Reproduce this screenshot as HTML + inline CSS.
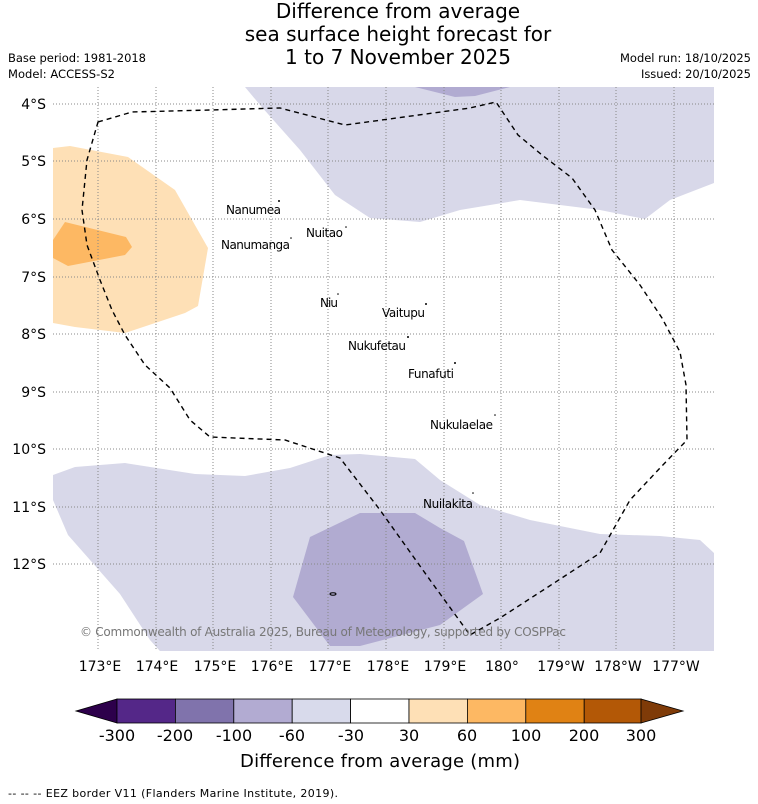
<!DOCTYPE html>
<html><head><meta charset="utf-8"><style>
body{margin:0;background:#fff;font-family:"Liberation Sans","DejaVu Sans",sans-serif;}
svg{display:block}
</style></head><body>
<svg width="758" height="804" xmlns="http://www.w3.org/2000/svg" font-family="DejaVu Sans, Liberation Sans, sans-serif">
<g font-size="20" text-anchor="middle" fill="#000">
<text x="398" y="18">Difference from average</text>
<text x="398" y="41">sea surface height forecast for</text>
<text x="398" y="64">1 to 7 November 2025</text>
</g>
<g font-size="11.5" fill="#000">
<text x="8" y="62" textLength="138">Base period: 1981-2018</text>
<text x="8" y="78" textLength="107">Model: ACCESS-S2</text>
<text x="620" y="62" textLength="131">Model run: 18/10/2025</text>
<text x="641" y="78" textLength="110">Issued: 20/10/2025</text>
</g>
<defs><clipPath id="mc"><rect x="53" y="87" width="661" height="564"/></clipPath></defs>
<g clip-path="url(#mc)">
<polygon fill="#d8d8e9" points="245,87 714,87 714,183 670,200 645,219 600,210 520,200 460,210 420,222 370,218 335,195 300,150 260,105"/>
<polygon fill="#b1abd1" points="415,87 510,87 475,96 455,97"/>
<polygon fill="#fee0b6" points="53,148 70,146 128,157 175,190 208,248 198,306 185,313 125,333 75,327 53,323"/>
<polygon fill="#fdb863" points="53,240 65,222 126,237 132,247 125,255 68,266 53,258"/>
<polygon fill="#d8d8e9" points="53,475 75,467 125,463 195,474 245,476 290,468 330,455 360,454 415,459 440,480 480,505 530,520 600,534 660,536 700,540 714,553 714,660 168,660 150,640 120,594 68,535 53,500"/>
<polygon fill="#b1abd1" points="360,513 415,513 440,528 464,541 483,594 440,625 360,646 330,646 293,597 310,537"/>
<g stroke="#888" stroke-width="1" stroke-dasharray="1,2">
<line x1="98" y1="87" x2="98" y2="651"/><line x1="156" y1="87" x2="156" y2="651"/><line x1="213" y1="87" x2="213" y2="651"/><line x1="271" y1="87" x2="271" y2="651"/><line x1="328" y1="87" x2="328" y2="651"/><line x1="386" y1="87" x2="386" y2="651"/><line x1="444" y1="87" x2="444" y2="651"/><line x1="501" y1="87" x2="501" y2="651"/><line x1="559" y1="87" x2="559" y2="651"/><line x1="616" y1="87" x2="616" y2="651"/><line x1="674" y1="87" x2="674" y2="651"/>
<line x1="53" y1="104" x2="714" y2="104"/><line x1="53" y1="161" x2="714" y2="161"/><line x1="53" y1="219" x2="714" y2="219"/><line x1="53" y1="277" x2="714" y2="277"/><line x1="53" y1="334" x2="714" y2="334"/><line x1="53" y1="392" x2="714" y2="392"/><line x1="53" y1="449" x2="714" y2="449"/><line x1="53" y1="507" x2="714" y2="507"/><line x1="53" y1="564" x2="714" y2="564"/>
</g>
<polygon fill="none" stroke="#000" stroke-width="1.4" stroke-dasharray="5,4" points="98,122 132,112 210,110 280,108 345,125 470,108 496,102 518,135 542,155 572,178 595,210 612,250 640,285 662,318 680,352 686,385 687,440 660,468 630,500 600,553 548,587 500,618 470,635 430,580 380,510 340,458 285,440 210,437 190,420 170,388 145,365 125,335 112,310 100,280 87,245 82,210 87,160"/>
<g font-size="12" fill="#000">
<text x="226" y="214" textLength="55">Nanumea</text><text x="306" y="237" textLength="37">Nuitao</text><text x="221" y="249" textLength="69">Nanumanga</text>
<text x="320" y="307" textLength="18">Niu</text><text x="382" y="317" textLength="43">Vaitupu</text><text x="348" y="350" textLength="58">Nukufetau</text>
<text x="408" y="378" textLength="46">Funafuti</text><text x="430" y="429" textLength="63">Nukulaelae</text><text x="423" y="508" textLength="50">Nuilakita</text>
</g>
<g fill="#000">
<circle cx="279" cy="201" r="1"/><circle cx="346" cy="227" r="0.8"/><circle cx="291" cy="238" r="0.8"/><circle cx="338" cy="294" r="0.8"/><circle cx="426" cy="304" r="1"/><circle cx="408" cy="337" r="1"/><circle cx="455" cy="363" r="1"/><circle cx="495" cy="415" r="0.8"/><circle cx="473" cy="493" r="0.8"/><ellipse cx="333" cy="594" rx="3" ry="1.2" fill="none" stroke="#000"/>
</g>
<text x="80" y="636" font-size="12" fill="#777" textLength="486">© Commonwealth of Australia 2025, Bureau of Meteorology, supported by COSPPac</text>
</g>
<g font-size="14" fill="#000" text-anchor="end">
<text x="46" y="109">4°S</text><text x="46" y="166">5°S</text><text x="46" y="224">6°S</text><text x="46" y="282">7°S</text><text x="46" y="339">8°S</text><text x="46" y="397">9°S</text><text x="46" y="454">10°S</text><text x="46" y="512">11°S</text><text x="46" y="569">12°S</text>
</g>
<g font-size="14" fill="#000" text-anchor="middle">
<text x="100" y="671">173°E</text><text x="157" y="671">174°E</text><text x="215" y="671">175°E</text><text x="272" y="671">176°E</text><text x="330" y="671">177°E</text><text x="388" y="671">178°E</text><text x="445" y="671">179°E</text><text x="502" y="671">180°</text><text x="561" y="671">179°W</text><text x="618" y="671">178°W</text><text x="676" y="671">177°W</text>
</g>
<g stroke="#000" stroke-width="0.8">
<polygon points="117,699 76,711 117,723" fill="#2d004b"/>
<rect x="117" y="699" width="58.4" height="24" fill="#542788"/>
<rect x="175.4" y="699" width="58.4" height="24" fill="#8073ac"/>
<rect x="233.8" y="699" width="58.4" height="24" fill="#b2abd2"/>
<rect x="292.2" y="699" width="58.4" height="24" fill="#d8daeb"/>
<rect x="350.6" y="699" width="58.4" height="24" fill="#ffffff"/>
<rect x="409" y="699" width="58.4" height="24" fill="#fee0b6"/>
<rect x="467.4" y="699" width="58.4" height="24" fill="#fdb863"/>
<rect x="525.8" y="699" width="58.4" height="24" fill="#e08214"/>
<rect x="584.2" y="699" width="57" height="24" fill="#b35806"/>
<polygon points="641,699 683,711 641,723" fill="#7f3b08"/>
</g>
<g font-size="16" fill="#000" text-anchor="middle">
<text x="117" y="741">-300</text><text x="175" y="741">-200</text><text x="234" y="741">-100</text><text x="292" y="741">-60</text><text x="351" y="741">-30</text><text x="409" y="741">30</text><text x="467" y="741">60</text><text x="526" y="741">100</text><text x="584" y="741">200</text><text x="641" y="741">300</text>
</g>
<text x="240" y="767" font-size="18" textLength="280">Difference from average (mm)</text>
<text x="8" y="797" font-size="11" textLength="330">--  --  -- EEZ border V11 (Flanders Marine Institute, 2019).</text>
</svg>
</body></html>
